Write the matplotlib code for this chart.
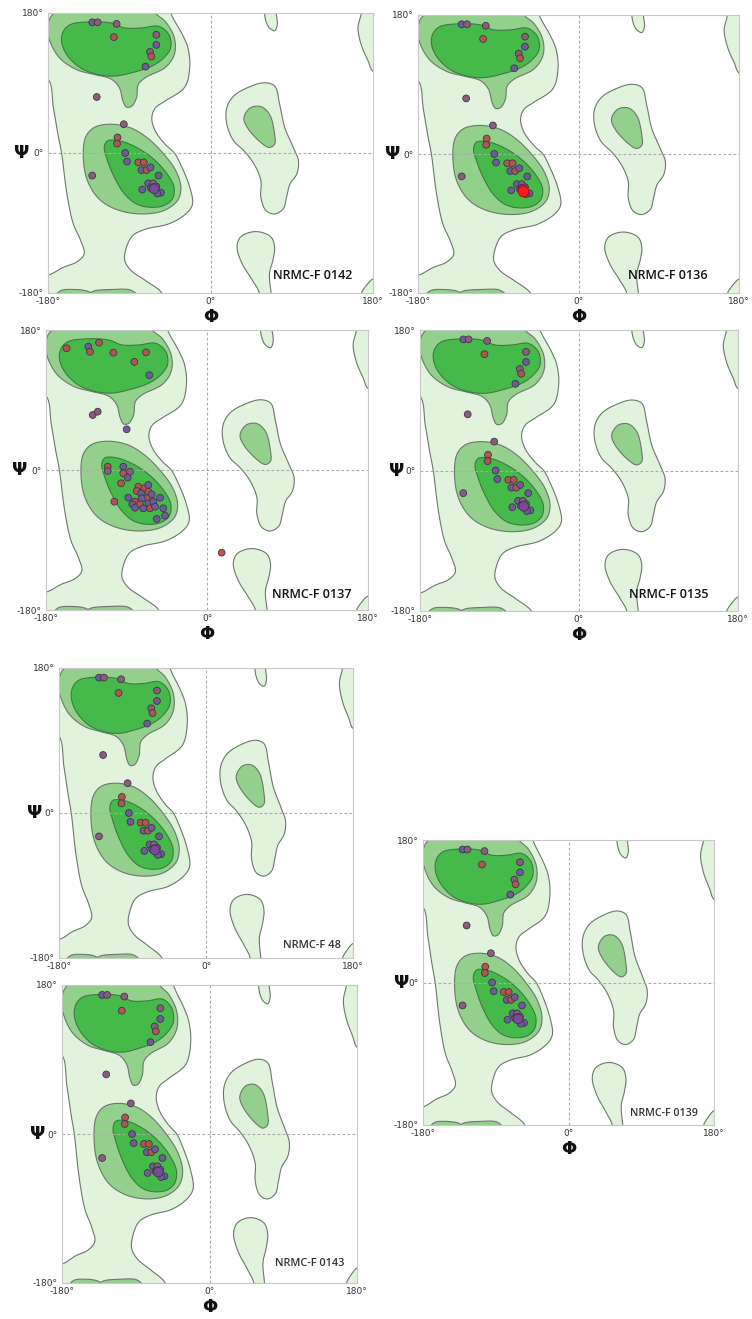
import numpy as np
import matplotlib
matplotlib.use("Agg")
import matplotlib.pyplot as plt
from matplotlib.patches import Polygon

# ---------------- data ----------------
panel_names = ["NRMC-F 0142", "NRMC-F 0136", "NRMC-F 0137", "NRMC-F 0135",
               "NRMC-F 48", "NRMC-F 0143", "NRMC-F 0139"]
tick_vals = [-180, 0, 180]
tick_labels = ["-180°", "0°", "180°"]

# contour regions, (phi, psi) in degrees (points beyond +-180 close shapes along the frame)
allowed_main = [(-44, 180), (-31, 152), (-25, 135), (-23, 110), (-29, 84), (-50, 67), (-61, 58),
                (-65, 45), (-61, 28), (-50, 11), (-40, 0), (-33, -15), (-23, -44), (-20, -66),
                (-27, -78), (-46, -91), (-72, -98), (-86, -106), (-93, -121), (-95, -138),
                (-88, -151), (-72, -164), (-54, -180), (-52, -195), (-195, -195), (-195, -157),
                (-180, -157), (-163, -147), (-148, -140), (-140, -130), (-144, -112), (-152, -91),
                (-159, -53), (-165, 0), (-169, 24), (-174, 58), (-180, 95), (-195, 100),
                (-195, 195), (-46, 195)]
allowed_lefthand = [(18, 58), (25.7, 73.3), (40.8, 83.9), (59.7, 90.3), (71, 86.1), (76.6, 62.6),
                    (82.3, 32.7), (91.7, 7.1), (97.4, -10), (95.5, -27.1), (88, -40), (84.2, -57),
                    (80.4, -72), (71, -78.4), (61.5, -74), (55.8, -57), (55.8, -35.6), (48.3, -14.3),
                    (37, 2.9), (25.7, 15.6), (18.1, 36.9)]
allowed_top_blob = [(59.7, 180), (61.5, 169.3), (65.3, 160.8), (71, 157.3), (74, 165), (72.8, 180),
                    (73, 192), (59, 192)]
allowed_topright = [(167, 180), (163.4, 161), (167, 139), (174.7, 118), (180, 105), (195, 100),
                    (195, 195), (167, 195)]
allowed_bottom_blob = [(29.4, -121), (33.2, -108.2), (44.5, -101.8), (55.8, -101.8), (67.1, -108.2),
                       (71, -121), (69.1, -138), (65.3, -155.2), (67.1, -180), (68, -195),
                       (53, -195), (54, -180), (46.4, -163.7), (35.1, -142.4)]
allowed_bottomright = [(167.2, -180), (172.9, -170), (180, -162), (195, -160), (195, -195), (165, -195)]

favored_beta = [(-61, 180), (-50, 169), (-40, 148), (-40, 127), (-50, 110), (-72, 97), (-80, 88),
                (-82, 71), (-87.5, 60), (-93, 59), (-97, 67), (-101, 84), (-110, 95), (-129, 101),
                (-148, 107), (-167, 122), (-178, 144), (-180.5, 160), (-177, 175), (-170, 182),
                (-150, 192), (-64, 192)]
favored_alpha = [(-112, 37), (-89.4, 32.7), (-70.5, 19.9), (-51.7, -1.5), (-38.5, -22.8),
                 (-32.8, -44.2), (-36.6, -61.2), (-51.7, -74), (-74.4, -78.4), (-100.8, -74),
                 (-121.5, -61.2), (-134.7, -40), (-140.4, -14.3), (-138.5, 19.9), (-129, 32.7)]
favored_lefthand = [(37, 45.5), (44.5, 58.3), (55.8, 59.6), (65.3, 49.8), (71, 24), (71, 11.3),
                    (65.3, 7.1), (55.8, 13.5), (40.8, 32.7)]
favored_bottom = [(-172, -186), (-166, -177), (-150, -175.5), (-138, -177), (-133, -179),
                  (-128, -177), (-110, -175.5), (-88, -176.5), (-80, -186)]

core_beta = [(-163, 156.5), (-155.4, 165), (-136.6, 168.5), (-110.2, 167.2), (-95.1, 160.8),
             (-76.2, 160.8), (-57.4, 162.9), (-46.1, 152.2), (-44.2, 135.2), (-51.7, 122.4),
             (-64.9, 111.7), (-87.5, 103.1), (-106.4, 98.9), (-125.3, 101), (-144.1, 109.5),
             (-159.3, 126.6), (-165, 143.7)]
core_alpha = [(-114, 15.6), (-100.8, 15.6), (-81.9, 7.1), (-63, -7.9), (-47.9, -27.1),
              (-40.4, -44.2), (-42.3, -59.1), (-51.7, -67.6), (-66.8, -69.8), (-81.9, -65.6),
              (-95.1, -52.8), (-106.4, -31.4), (-114, -10), (-117.7, 7.1)]

# residues shared by NRMC-F 0142/0136/0135/48/0143/0139
base_phi = [-131, -125, -104, -107, -60, -60, -67, -65.5, -72, -126, -96, -103, -103.5,
            -94.5, -92.5, -80, -74, -76.5, -71, -66.5, -57.5, -131, -69, -63.5, -66, -61.5,
            -60, -75.5, -55, -59, -64, -62.5]
base_psi = [168, 168, 166, 149, 152, 139, 130, 124, 111, 72, 37, 20, 12,
            0, -11, -12, -12, -22, -22, -18.5, -29, -29, -39, -39, -45, -47,
            -43, -47, -51, -52, -44, -46]
base_cls = ["p", "m", "m", "r", "m", "p", "m", "r", "p", "m", "m", "r", "r",
            "p", "p", "r", "r", "p", "r", "p", "p", "m", "p", "m", "p", "p",
            "p", "p", "p", "p", "m", "v"]
highlight_phi = [-62]
highlight_psi = [-48.5]

# residues of NRMC-F 0137
p3_phi = [-157, -132.7, -130.8, -120.7, -104.7, -81.3, -68.2, -64.5, -127.8, -122.2, -89.8, 16.4,
          -111, -111, -93.6, -86.1, -93.6, -88.7, -96.1, -76.8, -78.6, -70.1, -65.6, -73.8,
          -65.6, -61.8, -67.4, -73, -88, -80.5, -83.5, -74.9, -65.6, -60, -52.5, -63.7, -58.1,
          -71.2, -80.5, -103.6, -48.9, -47, -56.2]
p3_psi = [156.5, 158.6, 152, 163.7, 150.8, 139, 151.3, 122, 70.7, 75, 52.3, -106.3,
          4.3, -1.3, 4.3, -2.2, -4.3, -9.9, -17.1, -21.5, -27, -23.5, -19.3, -30,
          -27.9, -31.3, -36.4, -36.4, -35.6, -40.7, -44.1, -44.1, -42.8, -40.7, -35.6, -49.3, -47.2,
          -49.3, -48.5, -40.7, -49.3, -58.7, -63]
p3_cls = ["r", "p", "r", "r", "r", "r", "r", "p", "m", "m", "p", "o",
          "r", "m", "p", "m", "r", "p", "r", "r", "r", "r", "p", "p",
          "r", "p", "r", "p", "p", "r", "p", "r", "p", "p", "p", "r", "p",
          "p", "p", "r", "p", "p", "p"]

# ---------------- style ----------------
C_LIGHT, C_MED, C_DARK = "#e1f3dd", "#92d08c", "#46b94b"
LINE = "#6c786c"
DOT = {"p": "#6f5a9c", "m": "#8c5c7c", "r": "#b4544e", "o": "#c2553f", "v": "#7a4a9a"}

W, H = 752, 1319
fig = plt.figure(figsize=(W / 100, H / 100), dpi=100)
fig.patch.set_facecolor("white")


def cr_closed(pts, n=14, alpha=0.5):
    P = np.asarray(pts, float)
    N = len(P)
    out = []
    for i in range(N):
        p0, p1, p2, p3 = P[(i - 1) % N], P[i], P[(i + 1) % N], P[(i + 2) % N]
        t0 = 0.0
        t1 = t0 + max(np.linalg.norm(p1 - p0), 1e-6) ** alpha
        t2 = t1 + max(np.linalg.norm(p2 - p1), 1e-6) ** alpha
        t3 = t2 + max(np.linalg.norm(p3 - p2), 1e-6) ** alpha
        t = np.linspace(t1, t2, n, endpoint=False)[:, None]
        A1 = (t1 - t) / (t1 - t0) * p0 + (t - t0) / (t1 - t0) * p1
        A2 = (t2 - t) / (t2 - t1) * p1 + (t - t1) / (t2 - t1) * p2
        A3 = (t3 - t) / (t3 - t2) * p2 + (t - t2) / (t3 - t2) * p3
        B1 = (t2 - t) / (t2 - t0) * A1 + (t - t0) / (t2 - t0) * A2
        B2 = (t3 - t) / (t3 - t1) * A2 + (t - t1) / (t3 - t1) * A3
        out.append((t2 - t) / (t2 - t1) * B1 + (t - t1) / (t2 - t1) * B2)
    return np.vstack(out)


def region(ax, pts, fc, lw=0.8, ec=LINE):
    ax.add_patch(Polygon(cr_closed(pts), closed=True, facecolor=fc, edgecolor=ec,
                         linewidth=lw, zorder=1))


# panel rects in pixels: left, top, right, bottom
rects = [(48, 13, 373, 293), (418, 15, 739, 293), (46, 330, 368, 610), (420, 330, 738, 611),
         (59, 668, 353, 958), (62, 985, 357, 1283), (423, 840, 714, 1125)]
name_pos = [(157, -158), (145, -157.6), (162, -160.7), (147, -158.6),
            (165, -164.7), (165, -156), (160, -165)]
name_size = [9, 9, 9, 9, 8, 7.8, 7.7]
name_color = ["#111111"] * 4 + ["#333333"] * 3
psi_off = [-26, -25, -26, -23, -24, -24, -21]
show_phi = [True, True, True, True, False, True, True]

for k, (L, T, R, B) in enumerate(rects):
    ax = fig.add_axes([L / W, 1 - B / H, (R - L) / W, (B - T) / H])
    ax.set_xlim(-180, 180)
    ax.set_ylim(-180, 180)
    ax.set_facecolor("white")
    for sp in ax.spines.values():
        sp.set_color("#c8c8c8")
        sp.set_linewidth(0.8)
    ax.set_xticks(tick_vals)
    ax.set_xticklabels(tick_labels)
    ax.set_yticks(tick_vals)
    ax.set_yticklabels(tick_labels)
    ax.tick_params(length=0, labelsize=6.5, labelcolor="#333333", pad=3)

    for pts in [allowed_main, allowed_lefthand, allowed_top_blob, allowed_topright,
                allowed_bottom_blob, allowed_bottomright]:
        region(ax, pts, C_LIGHT)
    for pts in [favored_beta, favored_alpha, favored_lefthand, favored_bottom]:
        region(ax, pts, C_MED)
    for pts in [core_beta, core_alpha]:
        region(ax, pts, C_DARK, ec="#3f7a44")

    ax.axhline(0, color="#aaaaaa", lw=0.8, ls=(0, (2.5, 2)), zorder=2)
    ax.axvline(0, color="#aaaaaa", lw=0.8, ls=(0, (2.5, 2)), zorder=2)

    if k == 2:
        phi, psi, cls = p3_phi, p3_psi, p3_cls
    else:
        phi, psi, cls = base_phi, base_psi, base_cls
    sizes = [48 if c == "v" else 24 for c in cls]
    ax.scatter(phi, psi, s=sizes, c=[DOT[c] for c in cls], edgecolors="#3e3648",
               linewidths=0.6, zorder=5)
    if k == 1:
        ax.scatter(highlight_phi, highlight_psi, s=60, c="#ff1a1a", edgecolors="#c00000",
                   linewidths=0.6, zorder=6)

    ax.text(name_pos[k][0], name_pos[k][1], panel_names[k], ha="right", va="center",
            fontsize=name_size[k], color=name_color[k], family=["Open Sans", "DejaVu Sans"],
            fontweight="semibold", zorder=7)

    hpx = B - T
    wpx = R - L
    ax.text(psi_off[k] / wpx, 0.5, "Ψ", transform=ax.transAxes, ha="center", va="center",
            fontsize=13, fontweight="bold", color="#111111")
    if show_phi[k]:
        ax.text(0.5, -24 / hpx, "Φ", transform=ax.transAxes, ha="center", va="center",
                fontsize=13, fontweight="bold", color="#111111")

fig.savefig("out.png", dpi=100, facecolor="white")
